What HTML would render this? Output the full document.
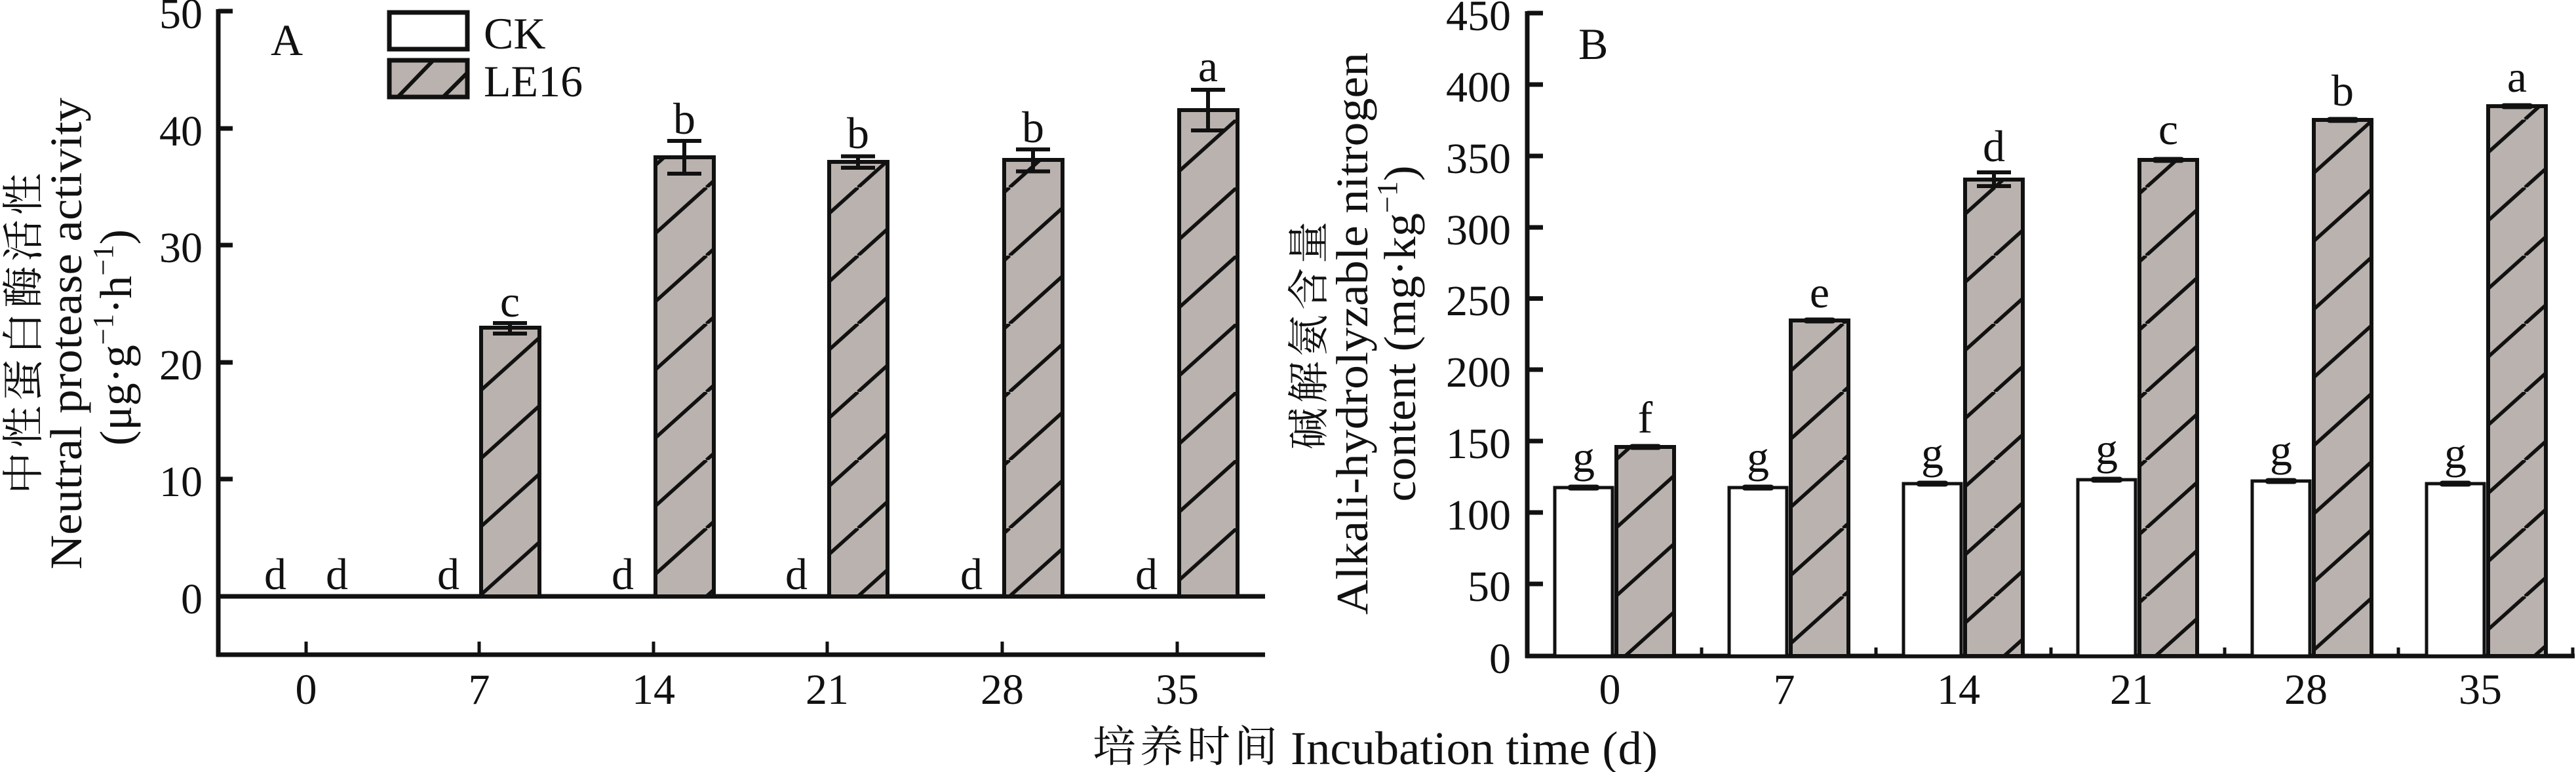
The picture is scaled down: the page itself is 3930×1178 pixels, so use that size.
<!DOCTYPE html>
<html>
<head>
<meta charset="utf-8">
<style>
html,body{margin:0;padding:0;background:#fff;}
svg{display:block;}
text{font-family:"Liberation Serif","Noto Serif CJK SC",serif;fill:#111;}
.cjk{font-family:"Noto Serif CJK SC","Noto Sans CJK SC","Liberation Serif",serif;}
</style>
</head>
<body>
<svg width="3930" height="1178" viewBox="0 0 3930 1178" xmlns="http://www.w3.org/2000/svg">
<defs>
  <pattern id="hatch" patternUnits="userSpaceOnUse" x="731" y="910" width="115.6" height="104">
    <rect x="0" y="0" width="115.6" height="104" fill="#bab2ae"/>
    <line x1="0" y1="104" x2="115.6" y2="0" stroke="#111" stroke-width="5.5"/>
    <line x1="-115.6" y1="104" x2="0" y2="0" stroke="#111" stroke-width="5.5"/>
    <line x1="115.6" y1="104" x2="231.2" y2="0" stroke="#111" stroke-width="5.5"/>
    <line x1="0" y1="0" x2="-115.6" y2="104" stroke="#111" stroke-width="5.5"/>
  </pattern>
  <clipPath id="legclip"><rect x="594" y="92" width="119" height="56"/></clipPath>
</defs>

<!-- ================= PANEL A ================= -->
<g stroke="#111" fill="none">
  <line x1="333" y1="14" x2="333" y2="1002" stroke-width="7"/>
  <g stroke-width="7">
    <line x1="333" y1="17" x2="355" y2="17"/>
    <line x1="333" y1="196" x2="355" y2="196"/>
    <line x1="333" y1="374" x2="355" y2="374"/>
    <line x1="333" y1="553" x2="355" y2="553"/>
    <line x1="333" y1="731" x2="355" y2="731"/>
  </g>
  <line x1="330" y1="910" x2="1930" y2="910" stroke-width="7"/>
  <line x1="330" y1="999" x2="1930" y2="999" stroke-width="7"/>
  <g stroke-width="5">
    <line x1="467" y1="979" x2="467" y2="999"/>
    <line x1="731" y1="979" x2="731" y2="999"/>
    <line x1="997" y1="979" x2="997" y2="999"/>
    <line x1="1262" y1="979" x2="1262" y2="999"/>
    <line x1="1529" y1="979" x2="1529" y2="999"/>
    <line x1="1796" y1="979" x2="1796" y2="999"/>
  </g>
</g>

<!-- A bars (LE16) -->
<g stroke="#111" stroke-width="6" fill="url(#hatch)">
  <rect x="734" y="500" width="89" height="410"/>
  <rect x="1000" y="240" width="89" height="670"/>
  <rect x="1265" y="247" width="89" height="663"/>
  <rect x="1532" y="244" width="89" height="666"/>
  <rect x="1799" y="168" width="89" height="742"/>
</g>
<!-- A error bars -->
<g stroke="#111" stroke-width="6">
  <line x1="778" y1="493" x2="778" y2="509"/><line x1="752" y1="493" x2="804" y2="493"/><line x1="752" y1="509" x2="804" y2="509"/>
  <line x1="1044" y1="215" x2="1044" y2="265"/><line x1="1018" y1="215" x2="1070" y2="215"/><line x1="1018" y1="265" x2="1070" y2="265"/>
  <line x1="1309" y1="238.5" x2="1309" y2="256"/><line x1="1283" y1="238.5" x2="1335" y2="238.5"/><line x1="1283" y1="256" x2="1335" y2="256"/>
  <line x1="1576" y1="228" x2="1576" y2="261.5"/><line x1="1550" y1="228" x2="1602" y2="228"/><line x1="1550" y1="261.5" x2="1602" y2="261.5"/>
  <line x1="1843" y1="137" x2="1843" y2="199"/><line x1="1817" y1="137" x2="1869" y2="137"/><line x1="1817" y1="199" x2="1869" y2="199"/>
</g>

<!-- A tick labels -->
<g font-size="66" text-anchor="end">
  <text x="309" y="43">50</text>
  <text x="309" y="222">40</text>
  <text x="309" y="400">30</text>
  <text x="309" y="579">20</text>
  <text x="309" y="757">10</text>
  <text x="309" y="936">0</text>
</g>
<g font-size="66" text-anchor="middle">
  <text x="467" y="1074">0</text>
  <text x="731" y="1074">7</text>
  <text x="997" y="1074">14</text>
  <text x="1262" y="1074">21</text>
  <text x="1529" y="1074">28</text>
  <text x="1796" y="1074">35</text>
</g>
<!-- A significance letters -->
<g font-size="68" text-anchor="middle">
  <text x="420" y="899">d</text>
  <text x="514" y="899">d</text>
  <text x="684" y="899">d</text>
  <text x="950" y="899">d</text>
  <text x="1215" y="899">d</text>
  <text x="1482" y="899">d</text>
  <text x="1749" y="899">d</text>
  <text x="778" y="483">c</text>
  <text x="1044" y="204">b</text>
  <text x="1309" y="226">b</text>
  <text x="1576" y="217">b</text>
  <text x="1843" y="124">a</text>
</g>
<text x="413" y="84" font-size="68">A</text>

<!-- Legend -->
<rect x="594" y="19" width="119" height="56" fill="#fff" stroke="#111" stroke-width="7"/>
<rect x="594" y="92" width="119" height="56" fill="#bab2ae"/>
<g clip-path="url(#legclip)" stroke="#111" stroke-width="6">
  <line x1="606" y1="149" x2="662" y2="91"/>
  <line x1="675" y1="149" x2="714" y2="110"/>
</g>
<rect x="594" y="92" width="119" height="56" fill="none" stroke="#111" stroke-width="7"/>
<text x="738" y="74" font-size="68">CK</text>
<text x="738" y="147" font-size="68">LE16</text>

<!-- A y-axis title -->
<text class="cjk" transform="translate(58,509) rotate(-90)" font-size="64" text-anchor="middle" textLength="490" lengthAdjust="spacing">中性蛋白酶活性</text>
<text transform="translate(124,509) rotate(-90)" font-size="69" text-anchor="middle" textLength="720" lengthAdjust="spacingAndGlyphs">Neutral protease activity</text>
<text transform="translate(200,515) rotate(-90)" font-size="69" text-anchor="middle" textLength="330" lengthAdjust="spacingAndGlyphs">(μg·g<tspan font-size="44" dy="-28">−1</tspan><tspan dy="28">·h</tspan><tspan font-size="44" dy="-28">−1</tspan><tspan dy="28">)</tspan></text>

<!-- ================= PANEL B ================= -->
<g stroke="#111" fill="none">
  <line x1="2330" y1="17" x2="2330" y2="1004" stroke-width="7"/>
  <g stroke-width="7">
    <line x1="2330" y1="20" x2="2354" y2="20"/>
    <line x1="2330" y1="129" x2="2354" y2="129"/>
    <line x1="2330" y1="238" x2="2354" y2="238"/>
    <line x1="2330" y1="347" x2="2354" y2="347"/>
    <line x1="2330" y1="455.5" x2="2354" y2="455.5"/>
    <line x1="2330" y1="564" x2="2354" y2="564"/>
    <line x1="2330" y1="673" x2="2354" y2="673"/>
    <line x1="2330" y1="782" x2="2354" y2="782"/>
    <line x1="2330" y1="891" x2="2354" y2="891"/>
  </g>
  <line x1="2327" y1="1001" x2="3928" y2="1001" stroke-width="7"/>
  <g stroke-width="5">
    <line x1="2596" y1="988" x2="2596" y2="1001"/>
    <line x1="2862" y1="988" x2="2862" y2="1001"/>
    <line x1="3129" y1="988" x2="3129" y2="1001"/>
    <line x1="3394" y1="988" x2="3394" y2="1001"/>
    <line x1="3659" y1="988" x2="3659" y2="1001"/>
    <line x1="3925" y1="988" x2="3925" y2="1001"/>
  </g>
</g>

<!-- B CK bars -->
<g stroke="#111" stroke-width="5" fill="#fff">
  <rect x="2372" y="744" width="88" height="257"/>
  <rect x="2638" y="744" width="88" height="257"/>
  <rect x="2904" y="738" width="88" height="263"/>
  <rect x="3170" y="732" width="88" height="269"/>
  <rect x="3436" y="734" width="88" height="267"/>
  <rect x="3702" y="738" width="88" height="263"/>
</g>
<!-- B LE16 bars -->
<g stroke="#111" stroke-width="6" fill="url(#hatch)">
  <rect x="2466" y="682" width="88" height="319"/>
  <rect x="2732" y="489" width="88" height="512"/>
  <rect x="2998" y="274" width="88" height="727"/>
  <rect x="3264" y="244" width="88" height="757"/>
  <rect x="3530" y="183" width="88" height="818"/>
  <rect x="3796" y="162" width="88" height="839"/>
</g>
<!-- B error bars -->
<g stroke="#111" stroke-width="9" stroke-linecap="round">
  <line x1="2396" y1="744" x2="2436" y2="744"/>
  <line x1="2662" y1="744" x2="2702" y2="744"/>
  <line x1="2928" y1="738" x2="2968" y2="738"/>
  <line x1="3194" y1="732" x2="3234" y2="732"/>
  <line x1="3460" y1="734" x2="3500" y2="734"/>
  <line x1="3726" y1="738" x2="3766" y2="738"/>
  <line x1="2490" y1="682" x2="2530" y2="682"/>
  <line x1="2756" y1="489" x2="2796" y2="489"/>
  <line x1="3288" y1="244" x2="3328" y2="244"/>
  <line x1="3554" y1="183" x2="3594" y2="183"/>
  <line x1="3820" y1="162" x2="3860" y2="162"/>
</g>
<g stroke="#111" stroke-width="6">
  <line x1="3042" y1="263" x2="3042" y2="284"/>
  <line x1="3016" y1="263" x2="3068" y2="263"/>
  <line x1="3016" y1="284" x2="3068" y2="284"/>
</g>

<!-- B tick labels -->
<g font-size="66" text-anchor="end">
  <text x="2305" y="46">450</text>
  <text x="2305" y="155">400</text>
  <text x="2305" y="264">350</text>
  <text x="2305" y="373">300</text>
  <text x="2305" y="481">250</text>
  <text x="2305" y="590">200</text>
  <text x="2305" y="699">150</text>
  <text x="2305" y="808">100</text>
  <text x="2305" y="917">50</text>
  <text x="2305" y="1027">0</text>
</g>
<g font-size="66" text-anchor="middle">
  <text x="2456" y="1074">0</text>
  <text x="2722" y="1074">7</text>
  <text x="2988" y="1074">14</text>
  <text x="3252" y="1074">21</text>
  <text x="3518" y="1074">28</text>
  <text x="3784" y="1074">35</text>
</g>
<!-- B significance letters -->
<g font-size="68" text-anchor="middle">
  <text x="2416" y="720">g</text>
  <text x="2682" y="720">g</text>
  <text x="2948" y="714">g</text>
  <text x="3214" y="708">g</text>
  <text x="3480" y="710">g</text>
  <text x="3746" y="714">g</text>
  <text x="2510" y="660">f</text>
  <text x="2776" y="469">e</text>
  <text x="3042" y="246">d</text>
  <text x="3308" y="220">c</text>
  <text x="3574" y="161">b</text>
  <text x="3840" y="140">a</text>
</g>
<text x="2408" y="90" font-size="68">B</text>

<!-- B y-axis title -->
<text class="cjk" transform="translate(2019,512) rotate(-90)" font-size="64" text-anchor="middle" textLength="348" lengthAdjust="spacing">碱解氨含量</text>
<text transform="translate(2086,509) rotate(-90)" font-size="69" text-anchor="middle" textLength="858" lengthAdjust="spacingAndGlyphs">Alkali-hydrolyzable nitrogen</text>
<text transform="translate(2159,509) rotate(-90)" font-size="69" text-anchor="middle" textLength="513" lengthAdjust="spacingAndGlyphs">content (mg·kg<tspan font-size="44" dy="-28">−1</tspan><tspan dy="28">)</tspan></text>

<!-- X-axis title -->
<text class="cjk" x="1667" y="1162" font-size="66" textLength="282" lengthAdjust="spacing">培养时间</text>
<text x="1969" y="1166" font-size="72" textLength="560" lengthAdjust="spacingAndGlyphs">Incubation time (d)</text>
</svg>
</body>
</html>
